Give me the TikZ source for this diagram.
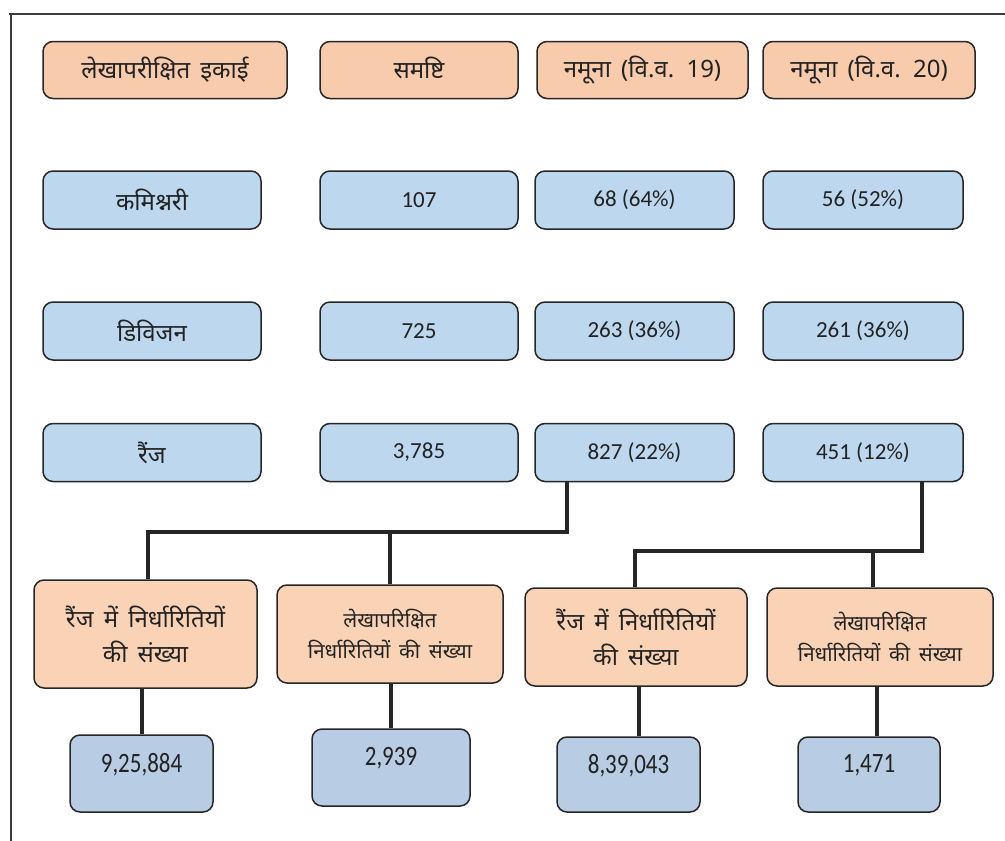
\documentclass[tikz,border=0pt]{standalone}
\usepackage{fontspec}
\newfontfamily\hin[Script=Devanagari]{Noto Sans}
\newfontfamily\calf{Carlito}
\definecolor{peach}{HTML}{F8CBAD}
\definecolor{peachl}{HTML}{FAD3B6}
\definecolor{lblue}{HTML}{BDD7EE}
\definecolor{dblue}{HTML}{B8CCE4}
\definecolor{bordc}{HTML}{262626}
\definecolor{txtc}{HTML}{222222}
\begin{document}
\begin{tikzpicture}[x=1pt,y=-1pt,
  box/.style={draw=bordc, line width=1.5pt, rounded corners=10pt, inner sep=0pt, text=txtc, align=center},
  hdr/.style={box, fill=peach, minimum height=57pt},
  rowb/.style={box, fill=lblue, minimum height=58pt},
  pbox/.style={box, fill=peachl},
  vbox/.style={box, fill=dblue},
  hintxt/.style={font=\hin\fontsize{24}{28}\selectfont},
  numtxt/.style={font=\calf\fontsize{23}{27}\selectfont},
  bigtxt/.style={font=\hin\fontsize{24}{35}\selectfont},
  smalltxt/.style={font=\hin\fontsize{20.5}{31}\selectfont},
  valtxt/.style={inner sep=0pt, text=txtc, font=\calf\fontsize{28}{30}\selectfont},
  conn/.style={draw=bordc, line width=4pt},
  frame/.style={draw=bordc!90, line width=2pt}
]
\useasboundingbox (0,0) rectangle (1005,841);
% frame
\coordinate (fa) at (9,14);
\coordinate (fb) at (1005,14);
\coordinate (fc) at (11,14);
\coordinate (fd) at (11,841);
\draw[frame] (fa) -- (fb);
\draw[frame] (fc) -- (fd);

% header row
\node[hdr, hintxt, minimum width=244pt] (h1) at (165,70) {लेखापरीक्षित\, इकाई};
\node[hdr, hintxt, minimum width=198pt] (h2) at (419,70) {\raisebox{4pt}{समष्टि}};
\node[hdr, hintxt, minimum width=211pt] (h3) at (642.5,70) {नमूना\, (वि.व.\, 19)};
\node[hdr, hintxt, minimum width=212pt] (h4) at (869,70) {नमूना\, (वि.व.\, 20)};

% row 1
\node[rowb, hintxt, minimum width=218pt] (r1c1) at (152,200) {कमिश्नरी};
\node[rowb, numtxt, minimum width=198pt] (r1c2) at (419,200) {107};
\node[rowb, numtxt, minimum width=199pt] (r1c3) at (634.5,200) {68 (64\%)};
\node[rowb, numtxt, minimum width=200pt] (r1c4) at (863,200) {56 (52\%)};
% row 2
\node[rowb, hintxt, minimum width=218pt] (r2c1) at (152,331) {डिविजन};
\node[rowb, numtxt, minimum width=198pt] (r2c2) at (419,331) {725};
\node[rowb, numtxt, minimum width=199pt] (r2c3) at (634.5,331) {263 (36\%)};
\node[rowb, numtxt, minimum width=200pt] (r2c4) at (863,331) {261 (36\%)};
% row 3
\node[rowb, hintxt, minimum width=218pt] (r3c1) at (152,452.5) {रैंज};
\node[rowb, numtxt, minimum width=198pt] (r3c2) at (419,452.5) {3,785};
\node[rowb, numtxt, minimum width=199pt] (r3c3) at (634.5,452.5) {827 (22\%)};
\node[rowb, numtxt, minimum width=200pt] (r3c4) at (863,452.5) {451 (12\%)};

% lower peach boxes
\node[pbox, bigtxt, minimum width=223pt, minimum height=108pt] (pA) at (145.5,634) {रैंज\, में\, निर्धारितियों\\की\, संख्या};
\node[pbox, smalltxt, minimum width=226pt, minimum height=98pt] (pB) at (390,634) {लेखापरिक्षित\\निर्धारितियों\, की\, संख्या};
\node[pbox, bigtxt, minimum width=222pt, minimum height=98pt] (pC) at (636,637) {रैंज\, में\, निर्धारितियों\\की\, संख्या};
\node[pbox, smalltxt, minimum width=226pt, minimum height=98pt] (pD) at (880,637) {लेखापरिक्षित\\निर्धारितियों\, की\, संख्या};

% value boxes
\node[vbox, minimum width=143pt, minimum height=77pt] (v1) at (141.5,773.5) {};
\node[vbox, minimum width=158pt, minimum height=77pt] (v2) at (391,767.5) {};
\node[vbox, minimum width=143pt, minimum height=75pt] (v3) at (628.5,774.5) {};
\node[vbox, minimum width=142pt, minimum height=75pt] (v4) at (869,774.5) {};
\node[valtxt] (v1t) at ([yshift=9pt]v1.center) {\scalebox{0.82}[1]{9,25,884}};
\node[valtxt] (v2t) at ([yshift=9pt]v2.center) {\scalebox{0.82}[1]{2,939}};
\node[valtxt] (v3t) at ([yshift=9pt]v3.center) {\scalebox{0.82}[1]{8,39,043}};
\node[valtxt] (v4t) at ([yshift=9pt]v4.center) {\scalebox{0.82}[1]{1,471}};

% connectors left group
\coordinate (jL) at (567,532);
\coordinate (jA) at (148,532);
\coordinate (jB) at (390,532);
\draw[conn] (jL |- r3c3.south) -- (jL) -- (jA) -- (jA |- pA.north);
\draw[conn] (jB) -- (jB |- pB.north);
% connectors right group
\coordinate (jR) at (922,551);
\coordinate (jC) at (635,551);
\coordinate (jD) at (873,551);
\draw[conn] (jR |- r3c4.south) -- (jR) -- (jC) -- (jC |- pC.north);
\draw[conn] (jD) -- (jD |- pD.north);
% to value boxes
\coordinate (k1) at (142,700);
\coordinate (k2) at (391,700);
\coordinate (k3) at (639,700);
\coordinate (k4) at (877,700);
\draw[conn, line width=3.5pt] (k1 |- pA.south) -- (k1 |- v1.north);
\draw[conn, line width=3.5pt] (k2 |- pB.south) -- (k2 |- v2.north);
\draw[conn, line width=3.5pt] (k3 |- pC.south) -- (k3 |- v3.north);
\draw[conn, line width=3.5pt] (k4 |- pD.south) -- (k4 |- v4.north);
\end{tikzpicture}
\end{document}
